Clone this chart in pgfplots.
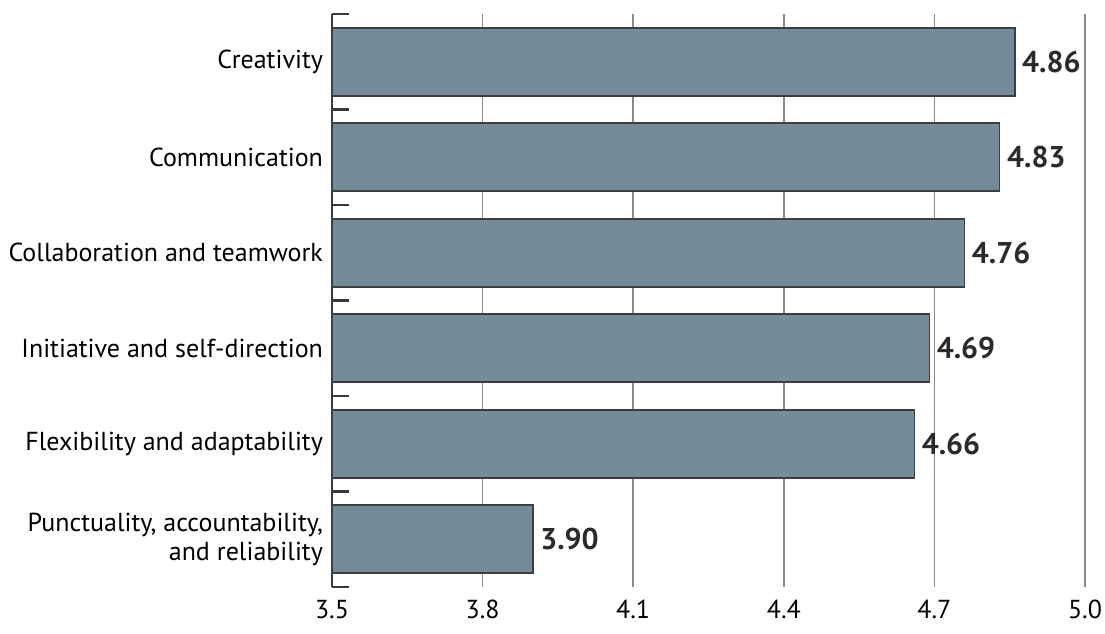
\documentclass[border=0pt]{standalone}
\usepackage{pgfplots}
\pgfplotsset{compat=1.18}
\usepackage{fontspec}
\setmainfont{PT Sans}
\definecolor{barfill}{HTML}{768B99}
\definecolor{baredge}{HTML}{3C3F42}
\definecolor{gridgray}{HTML}{8A8A8A}
\definecolor{axisdark}{HTML}{3A3A3A}
\definecolor{valtext}{HTML}{2B2B2B}

\begin{document}
\begin{tikzpicture}
\begin{axis}[
    at={(0,0)}, anchor=south west,
    scale only axis,
    width=376.5pt, height=286.5pt,
    xmin=3.5, xmax=5.0,
    ymin=-0.5, ymax=5.5,
    y dir=reverse,
    xbar,
    bar width=34pt,
    axis lines*=left,
    x axis line style={draw=none},
    y axis line style={draw=axisdark, line width=1.1pt},
    xtick={3.5,3.8,4.1,4.4,4.7,5.0},
    xticklabels={3.5,3.8,4.1,4.4,4.7,5.0},
    major x tick style={draw=none},
    xmajorgrids,
    major grid style={draw=gridgray, line width=0.8pt},
    xticklabel style={font=\fontsize{13}{14}\selectfont, text=black, yshift=-3pt},
    ytick={0,1,2,3,4,5},
    yticklabels={Creativity, Communication, Collaboration and teamwork,
        Initiative and self-direction, Flexibility and adaptability,
        {Punctuality, accountability,\\and reliability}},
    yticklabel style={font=\fontsize{13}{14.5}\selectfont, align=right, text=black, xshift=-1pt},
    major y tick style={draw=none},
    minor ytick={-0.5,0.5,1.5,2.5,3.5,4.5,5.5},
    minor tick length=8.5pt,
    minor y tick style={draw=axisdark, line width=1.1pt},
    tick align=inside,
    nodes near coords,
    nodes near coords align={horizontal},
    every node near coord/.append style={
        font=\fontsize{15}{16}\selectfont\bfseries, text=valtext,
        anchor=west, xshift=0pt,
        /pgf/number format/fixed, /pgf/number format/precision=2,
        /pgf/number format/fixed zerofill,
        /pgf/number format/assume math mode=true},
]
\addplot[fill=barfill, draw=baredge, line width=0.8pt] coordinates {
    (4.86,0) (4.83,1) (4.76,2) (4.69,3) (4.66,4) (3.90,5)
};
\end{axis}
\pgfresetboundingbox
\path[use as bounding box] (-166pt,-23pt) rectangle (386.5pt,293.5pt);
\end{tikzpicture}
\end{document}
